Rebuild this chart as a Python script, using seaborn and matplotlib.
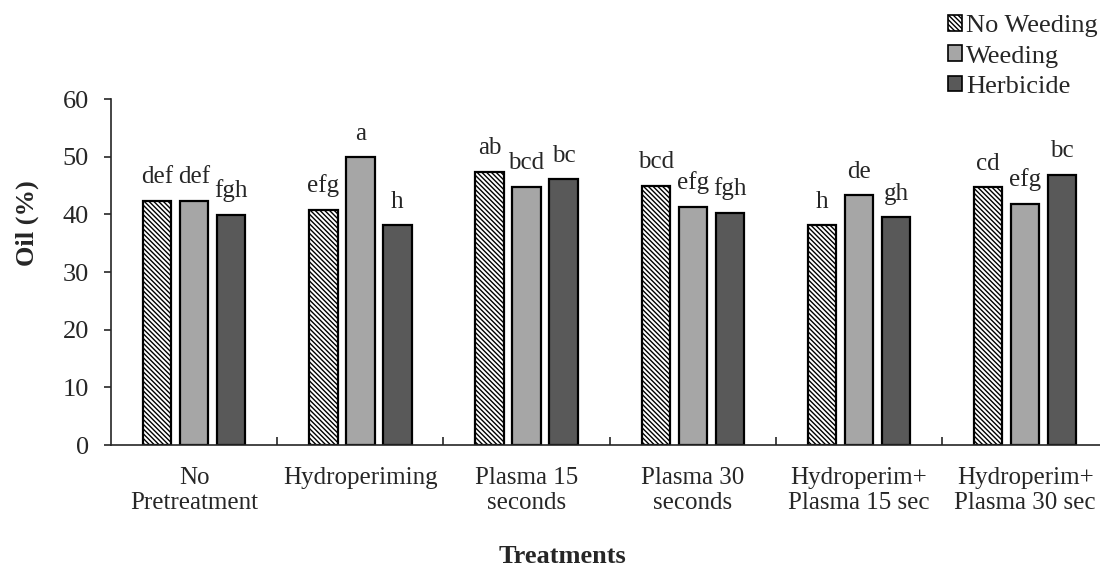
import numpy as np
import pandas as pd
import matplotlib.pyplot as plt
import seaborn as sns
from matplotlib.patches import Patch

treatments = ["No\nPretreatment", "Hydroperiming", "Plasma 15\nseconds",
              "Plasma 30\nseconds", "Hydroperim+\nPlasma 15 sec", "Hydroperim+\nPlasma 30 sec"]
series = ["No Weeding", "Weeding", "Herbicide"]
no_weeding = [42.4, 40.8, 47.4, 45.0, 38.1, 44.7]
weeding = [42.4, 49.9, 44.8, 41.3, 43.3, 41.8]
herbicide = [39.9, 38.1, 46.1, 40.3, 39.5, 46.9]
letters_nw = ["def", "efg", "ab", "bcd", "h", "cd"]
letters_w = ["def", "a", "bcd", "efg", "de", "efg"]
letters_h = ["fgh", "h", "bc", "fgh", "gh", "bc"]

sns.set_style("ticks")
plt.rcParams["font.family"] = ["Liberation Serif", "DejaVu Serif"]
plt.rcParams["hatch.linewidth"] = 1.0
plt.rcParams["hatch.color"] = "#222222"

df = pd.DataFrame({
    "Treatment": treatments * 3,
    "Series": np.repeat(series, len(treatments)),
    "Oil": no_weeding + weeding + herbicide,
})

colors = ["white", "#a6a6a6", "#595959"]
hatch = "\\" * 7
fs = 18

fig = plt.figure(figsize=(11, 5.78), dpi=100)
ax = fig.add_axes([0.101, 0.2301, 0.9065, 0.5986])
sns.barplot(data=df, x="Treatment", y="Oil", hue="Series", palette=colors,
            width=0.668, gap=0.23, edgecolor="black", linewidth=1.6,
            errorbar=None, legend=False, ax=ax)

for bar in ax.containers[0]:
    bar.set_hatch(hatch)

for cont, labs in zip(ax.containers, [letters_nw, letters_w, letters_h]):
    ax.bar_label(cont, labels=labs, padding=9, fontsize=fs)

ax.set_ylim(0, 60)
ax.set_yticks(range(0, 61, 10))
ax.set_xlim(-0.5, 5.5)
ax.tick_params(axis="y", labelsize=fs + 1, length=5, width=1.2, pad=11)
ax.tick_params(axis="x", labelsize=fs, length=0, pad=16)
for lab in ax.get_xticklabels():
    lab.set_linespacing(1.15)
ax.set_xticks(np.arange(0.5, 5.5, 1), minor=True)
ax.tick_params(axis="x", which="minor", direction="in", length=6, width=1.2)
for s in ["top", "right"]:
    ax.spines[s].set_visible(False)
ax.spines["left"].set_linewidth(1.2)
ax.spines["bottom"].set_linewidth(1.2)
ax.set_ylabel("Oil (%)", fontsize=fs + 1, fontweight="bold")
ax.yaxis.set_label_coords(-0.072, 0.64)
ax.set_xlabel("")
fig.text(562 / 1100, 0.018, "Treatments", fontsize=fs + 1, fontweight="bold",
         ha="center", va="bottom")

handles = [Patch(facecolor=c, edgecolor="black", hatch=h, linewidth=1.2)
           for c, h in zip(colors, [hatch, "", ""])]
fig.legend(handles, series, loc="upper right", bbox_to_anchor=(1.003, 0.983),
           frameon=False, fontsize=fs + 1, handlelength=0.55, handleheight=0.55,
           handletextpad=0.15, labelspacing=0.3, borderaxespad=0.1, borderpad=0.1)

fig.savefig("out.png", dpi=100)
